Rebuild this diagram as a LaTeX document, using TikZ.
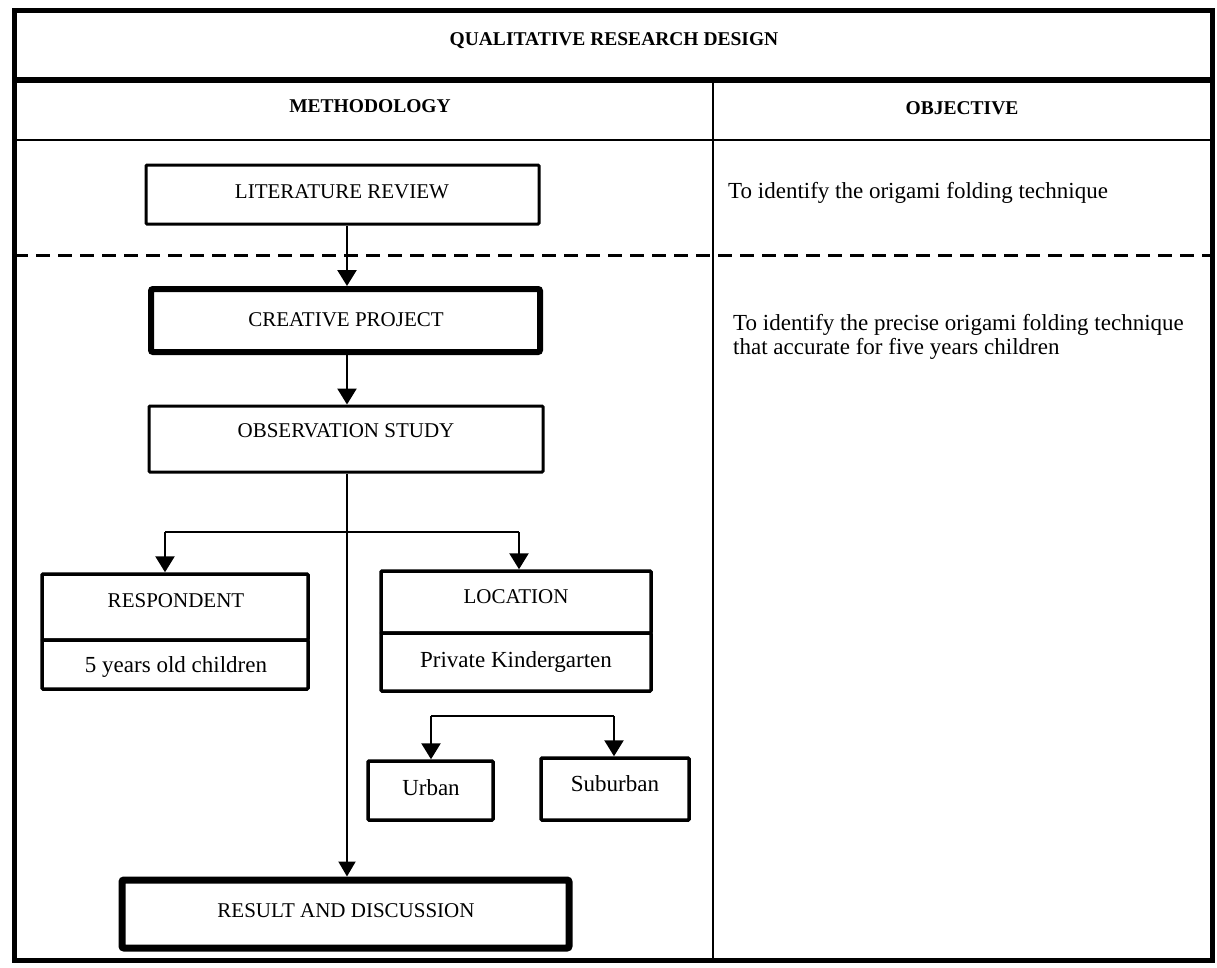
\documentclass[tikz,border=0pt]{standalone}
\usepackage{fontspec}
\setmainfont{Liberation Serif}
\usetikzlibrary{arrows.meta}
\begin{document}
\begin{tikzpicture}[x=1pt,y=-1pt,
  boxthin/.style={draw,line width=3pt,inner sep=0pt,rounded corners=1pt},
  boxmid/.style={draw,line width=3.5pt,inner sep=0pt,rounded corners=1pt},
  boxthick/.style={draw,line width=6pt,inner sep=0pt,rounded corners=2pt},
  boxheavy/.style={draw,line width=7pt,inner sep=0pt,rounded corners=2pt},
  txt/.style={font=\fontsize{21}{25}\selectfont,anchor=base,inner sep=0pt},
  mtxt/.style={font=\fontsize{23}{25}\selectfont,anchor=base,inner sep=0pt},
  ltxt/.style={font=\fontsize{23}{25}\selectfont,anchor=base west,inner sep=0pt},
  hdr/.style={font=\fontsize{19.5}{23}\selectfont\bfseries,anchor=base,inner sep=0pt},
  arr/.style={line width=2.5pt,-{Triangle[width=19pt,length=16pt]}},
  conn/.style={line width=2.5pt},
  thinconn/.style={line width=2pt,-{Triangle[width=17pt,length=15pt]}}
]
\useasboundingbox[fill=white] (0,0) rectangle (1217,967);
% frame and table
\draw[line width=5pt] (14,10) rectangle (1212,960);
\draw[line width=6pt] (14,80) -- (1212,80);
\draw[line width=2pt] (14,140) -- (1212,140);
\draw[line width=2pt] (713,80) -- (713,960);
\draw[line width=3pt,dash pattern=on 14pt off 8pt] (14,255) -- (1212,255);
% headers
\node[hdr] (title) at (614,45) {QUALITATIVE RESEARCH DESIGN};
\node[hdr] (meth) at (370,112) {METHODOLOGY};
\node[hdr] (obj) at (962,114) {OBJECTIVE};
% boxes
\node[boxthin,minimum width=393pt,minimum height=59pt] (lr) at (342.5,194.5) {};
\node[txt] (lrt) at (342,198) {LITERATURE REVIEW};
\node[boxthick,minimum width=389pt,minimum height=63pt] (cp) at (345.5,320.5) {};
\node[txt] (cpt) at (346,326) {CREATIVE PROJECT};
\node[boxthin,minimum width=394pt,minimum height=66pt] (os) at (346,439) {};
\node[txt] (ost) at (346,437) {OBSERVATION STUDY};
% respondent
\node[boxmid,minimum width=266pt,minimum height=66pt] (resp) at (175,607) {};
\node[boxmid,minimum width=266pt,minimum height=49pt] (resp2) at (175,664.5) {};
\node[txt] (respt) at (176,607) {RESPONDENT};
\node[mtxt] (resp2t) at (176,672) {5 years old children};
% location
\node[boxmid,minimum width=270pt,minimum height=62pt] (loc) at (516,602) {};
\node[boxmid,minimum width=270pt,minimum height=58pt] (loc2) at (516,662) {};
\node[txt] (loct) at (516,603) {LOCATION};
\node[mtxt] (loc2t) at (516,667) {Private Kindergarten};
% urban / suburban
\node[boxmid,minimum width=125pt,minimum height=59pt] (urb) at (430.5,790.5) {};
\node[mtxt] (urbt) at (431,795) {Urban};
\node[boxmid,minimum width=148pt,minimum height=62pt] (sub) at (615,789) {};
\node[mtxt] (subt) at (615,791) {Suburban};
% result
\node[boxheavy,minimum width=447pt,minimum height=68pt] (res) at (345.5,914) {};
\node[txt] (rest) at (346,917) {RESULT AND DISCUSSION};
% objective texts
\node[ltxt] (o1) at (728,198) {To identify the origami folding technique};
\node[ltxt] (o2) at (733,330) {To identify the precise origami folding technique};
\node[ltxt] (o3) at (733,354) {that accurate for five years children};
% connectors
\draw[arr] (lr.south -| 347,0) -- (cp.north -| 347,0);
\draw[arr] (cp.south -| 347,0) -- (os.north -| 347,0);
\draw[thinconn] (os.south -| 347,0) -- (res.north -| 347,0);
\coordinate (bl) at (165,532);
\coordinate (br) at (519,532);
\draw[conn] (bl) -- (br);
\draw[arr] (bl) -- (resp.north -| bl);
\draw[arr] (br) -- (loc.north -| br);
\coordinate (ul) at (431,716);
\coordinate (ur) at (614,716);
\draw[conn] (ul) -- (ur);
\draw[arr] (ul) -- (urb.north -| ul);
\draw[arr] (ur) -- (sub.north -| ur);
\end{tikzpicture}
\end{document}
